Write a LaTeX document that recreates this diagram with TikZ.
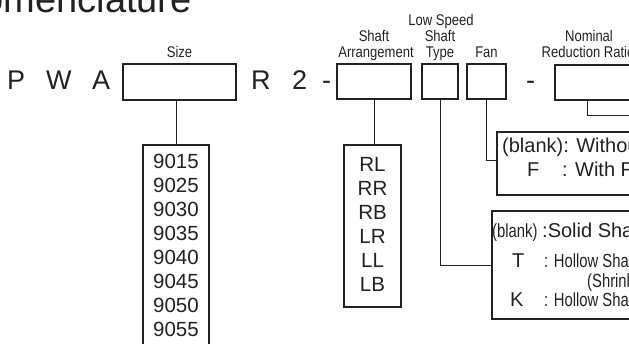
\documentclass[tikz,border=0pt]{standalone}
\usepackage{fontspec}
\setmainfont{Liberation Sans}
\newcommand{\nrw}[1]{\scalebox{0.84}[1]{#1}}
\newcommand{\nrws}[1]{\scalebox{0.78}[1]{#1}}
\definecolor{ink}{HTML}{222222}
\tikzset{
  box/.style={draw=ink, line width=2pt, rectangle, inner sep=0pt},
  conn/.style={draw=ink, line width=0.9pt},
  big/.style={font=\fontsize{27}{30}\selectfont, text=ink, inner sep=0pt, anchor=base west},
  lab/.style={font=\fontsize{15.5}{15.5}\selectfont, text=ink, inner sep=0pt, anchor=base},
  mid/.style={font=\fontsize{20}{24}\selectfont, text=ink, inner sep=0pt, anchor=base west},
  sml/.style={font=\fontsize{19}{19}\selectfont, text=ink, inner sep=0pt, anchor=base west},
  item/.style={font=\fontsize{20.5}{24}\selectfont, text=ink, inner sep=0pt, anchor=base},
}
\begin{document}
\begin{tikzpicture}[x=1pt,y=-1pt]
\useasboundingbox (0,0) rectangle (629,344);
\clip (0,0) rectangle (629,344);
% title
\node[font=\fontsize{38}{40}\selectfont, text=ink, inner sep=0pt, anchor=base east] (title) at (192,13) {Nomenclature};
% code letters
\node[big] (p) at (7,90) {P};
\node[big] (w) at (46,90) {W};
\node[big] (a) at (92,90) {A};
\node[big] (r) at (251,90) {R};
\node[big] (two) at (292,90) {2};
\node[big] (d1) at (322,90) {-};
\node[big] (d2) at (526,90) {-};
% code boxes
\node[box, minimum width=113, minimum height=36] (size) at (179.5,82) {};
\node[box, minimum width=74, minimum height=35] (arr) at (374,81.5) {};
\node[box, minimum width=36, minimum height=35] (type) at (440,81.5) {};
\node[box, minimum width=39, minimum height=35] (fan) at (486.5,81.5) {};
\node[box, minimum width=90, minimum height=35] (nom) at (600,82.5) {};
% labels
\node[lab] (lsize) at (179.5,58) {\nrw{Size}};
\node[lab] (larr1) at (374,42) {\nrw{Shaft}};
\node[lab] (larr2) at (376,58) {\nrw{Arrangement}};
\node[lab] (ltyp1) at (441,26) {\nrw{Low Speed}};
\node[lab] (ltyp2) at (440,42) {\nrw{Shaft}};
\node[lab] (ltyp3) at (440,58) {\nrw{Type}};
\node[lab] (lfan) at (486.5,58) {\nrw{Fan}};
\node[lab] (lnom1) at (589,42) {\nrw{Nominal}};
\node[lab] (lnom2) at (588,58) {\nrw{Reduction Ratio}};
% size list
\node[box, minimum width=66, minimum height=230, anchor=north] (sizelist) at (176,144) {};
\foreach \t [count=\i from 0] in {9015,9025,9030,9035,9040,9045,9050,9055}
  \node[item] (s\i) at (176,169+24*\i) {\t};
% shaft arrangement list
\node[box, minimum width=57, minimum height=162, anchor=north] (arrlist) at (372.5,144) {};
\foreach \t [count=\i from 0] in {RL,RR,RB,LR,LL,LB}
  \node[item] (a\i) at (372.5,172+24*\i) {\t};
% fan box
\node[box, minimum width=200, minimum height=63, anchor=north west] (fanbox) at (496,131) {};
\node[mid] (f1) at (502,153) {(blank): Without Fan};
\node[mid] (f2a) at (527,177) {F};
\node[mid] (f2b) at (562,177) {: With Fan};
% type box
\node[box, minimum width=200, minimum height=108, anchor=north west] (typebox) at (491,210) {};
\node[sml] (t1a) at (492,238) {\nrws{(blank)}};
\node[mid] (t1b) at (542,238) {:Solid Shaft};
\node[mid] (t2a) at (512,268) {T};
\node[sml] (t2b) at (544,268) {\nrws{: Hollow Shaft}};
\node[sml] (t3) at (587,288) {\nrws{(Shrink}};
\node[mid] (t4a) at (510,307) {K};
\node[sml] (t4b) at (544,307) {\nrws{: Hollow Shaft}};
% connectors
\coordinate (nomend) at (640,115);
\draw[conn] (size.south -| sizelist.north) -- (sizelist.north);
\draw[conn] (arr.south) -- (arr.south |- arrlist.north);
\draw[conn] (type.south) |- (typebox.west);
\draw[conn] (fan.south) |- ([yshift=3.5pt]fanbox.west);
\draw[conn] ([xshift=-13pt]nom.south) |- (nomend);
\end{tikzpicture}
\end{document}
